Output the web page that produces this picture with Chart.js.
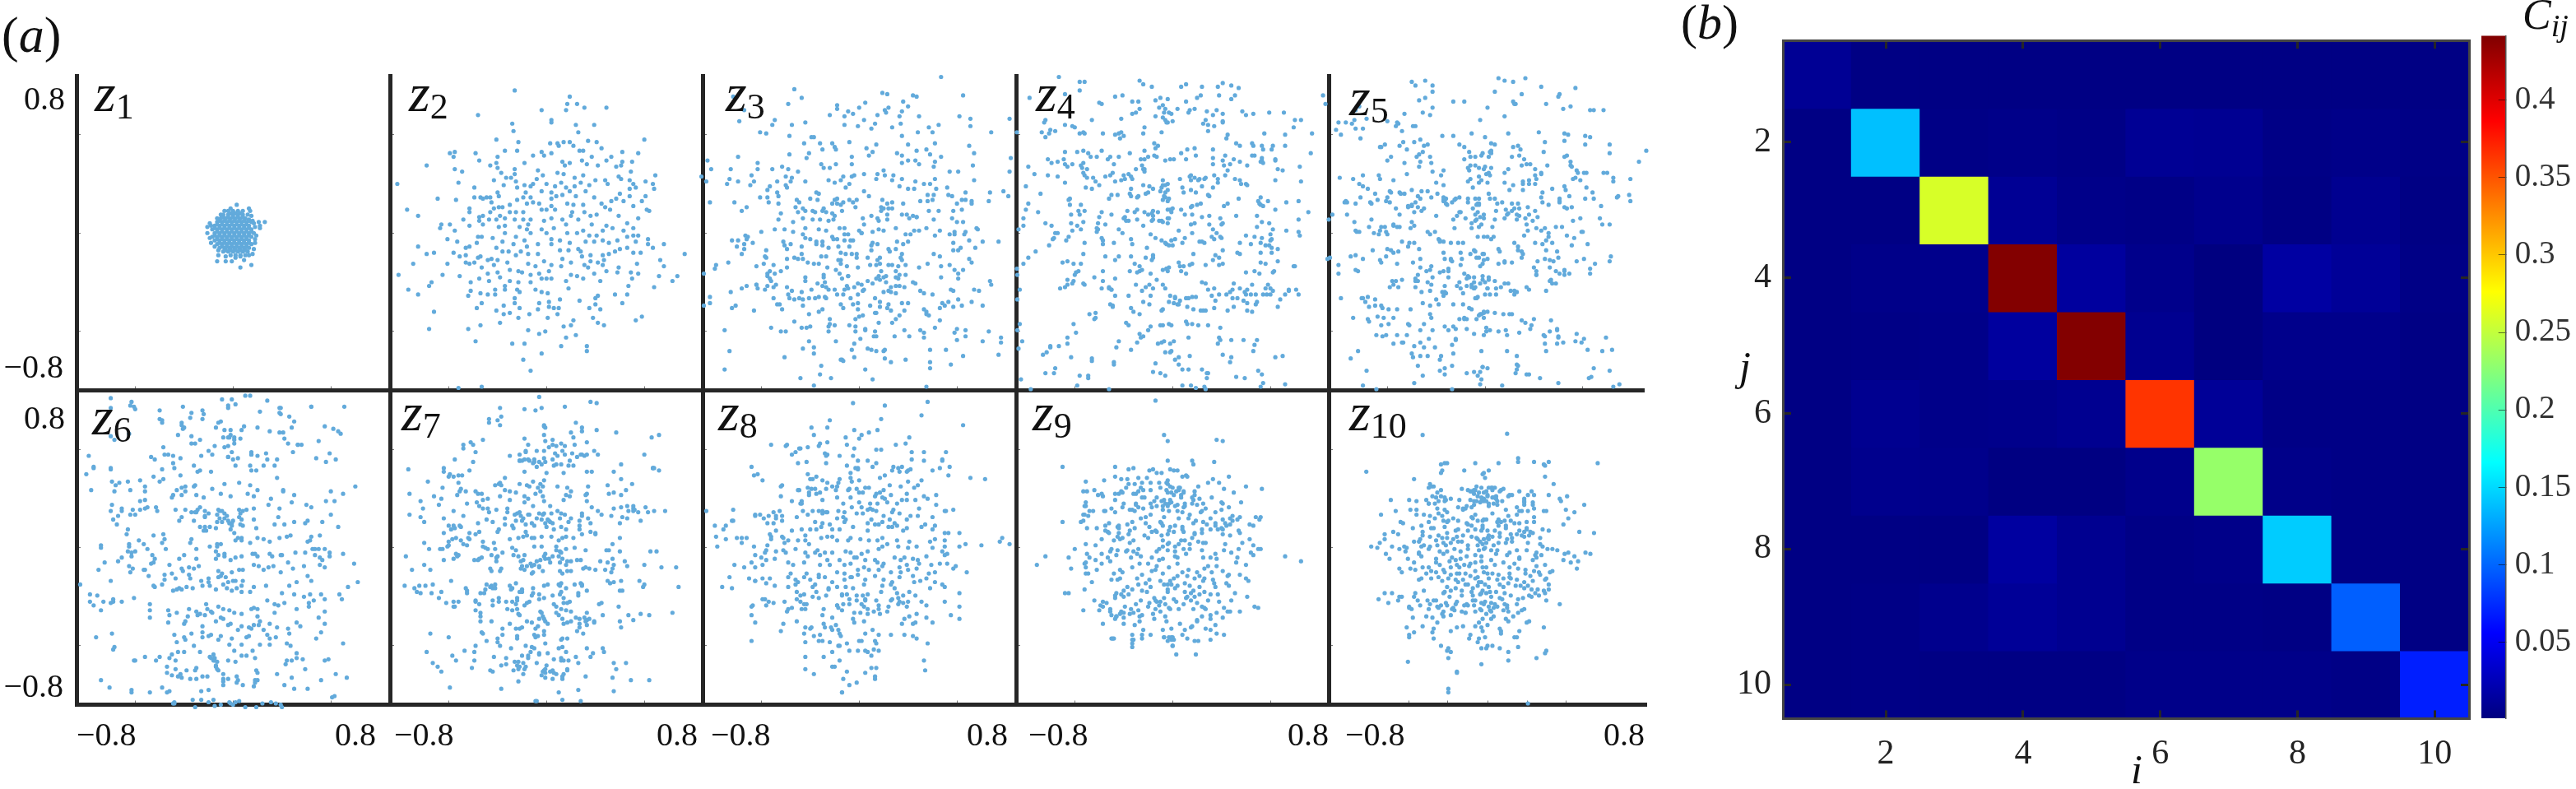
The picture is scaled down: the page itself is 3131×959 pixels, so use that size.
<!DOCTYPE html>
<html>
<head>
<meta charset="utf-8">
<title>Latent scatter and correlation matrix</title>
<script src="https://cdn.jsdelivr.net/npm/chart.js@4"></script>
<style>
  html, body { margin: 0; background: #fff; }
  #stage { position: relative; width: 3131px; height: 959px; overflow: hidden; }
  #stage canvas { position: absolute; }
  .t { position: absolute; font-family: "Liberation Serif", serif; line-height: 0; white-space: nowrap; color: #111; z-index: 50; }
  .t i { font-style: italic; }
  .t sub { font-size: 44px; vertical-align: -9px; line-height: 0; font-style: normal; }
  .t sub i { font-size: 38px; }
</style>
</head>
<body>
<div id="stage"></div>
<script>
// scatter values are x,y pairs in hundredths
const z1 = [3,23,13,20,-2,20,-7,18,14,18,-10,15,15,14,-13,12,16,10,26,9,21,9,22,6,17,8,-19,8,-21,5,-18,6,22,4,18,5,-21,0,19,-2,-19,-4,18,-5,-18,-8,18,-8,-15,-11,17,-13,-12,-14,-12,-18,16,-17,-6,-19,13,-18,9,-22,2,-20,-13,-23,-6,-23,-1,-23,6,-28,15,-26,6,-19,
  -4,18,0,18,4,18,8,18,-8,15,-4,15,0,15,4,15,8,15,12,15,-10,12,-6,12,-2,12,2,12,6,12,10,12,13,11,-13,9,-9,9,-5,9,-1,9,3,9,7,9,11,9,15,9,-15,6,-11,6,-7,6,-3,6,1,6,5,6,9,6,13,6,-17,3,-13,3,-9,3,-5,3,-1,3,3,3,7,3,11,3,15,3,-15,0,-11,0,-7,0,-3,0,1,0,5,0,9,0,13,0,17,0,-17,-3,-13,-3,-9,-3,-5,-3,-1,-3,3,-3,7,-3,11,-3,15,-3,-15,-6,-11,-6,-7,-6,-3,-6,1,-6,5,-6,9,-6,13,-6,-13,-9,-9,-9,-5,-9,-1,-9,3,-9,7,-9,11,-9,15,-9,-11,-12,-7,-12,-3,-12,1,-12,5,-12,9,-12,13,-12,-8,-15,-4,-15,0,-15,4,-15,8,-15,12,-15,-2,-18,2,-18,6,-18,10,-18,
  -2,16,2,16,6,16,-8,13,-4,13,0,13,4,13,8,13,-11,10,-7,10,-3,10,1,10,5,10,9,10,13,10,-13,7,-9,7,-5,7,-1,7,3,7,7,7,11,7,-15,4,-11,4,-7,4,-3,4,1,4,5,4,9,4,13,4,-13,1,-9,1,-5,1,-1,1,3,1,7,1,11,1,15,1,-15,-2,-11,-2,-7,-2,-3,-2,1,-2,5,-2,9,-2,13,-2,-13,-5,-9,-5,-5,-5,-1,-5,3,-5,7,-5,11,-5,-11,-8,-7,-8,-3,-8,1,-8,5,-8,9,-8,13,-8,-9,-11,-5,-11,-1,-11,3,-11,7,-11,11,-11,-6,-14,-2,-14,2,-14,6,-14,10,-14];
const z2 = [-26,116,19,111,17,105,25,105,31,102,49,102,16,100,-4,100,-56,96,4,92,4,90,-28,89,39,88,24,88,-27,83,26,82,80,76,-41,76,-23,74,34,75,41,74,19,74,14,74,3,73,9,73,10,71,22,71,45,69,-34,67,-24,67,-79,65,-75,66,-58,65,27,67,30,67,-4,66,4,65,-11,63,-2,63,75,65,62,66,37,62,-76,62,-40,62,-55,59,53,62,49,59,29,59,70,58,62,58,-41,57,-18,57,13,58,19,57,33,56,-46,55,-98,55,61,55,42,55,57,54,-40,53,15,55,-75,52,-69,50,-26,52,-37,49,-7,51,69,50,9,49,14,48,89,47,-26,48,-33,45,-29,45,-3,47,30,47,23,45,59,46,61,44,40,43,48,43,-43,43,-25,42,-8,44,12,41,28,41,68,43,81,42,-122,40,-72,41,87,40,50,40,71,40,-35,39,-18,39,-11,40,35,39,73,37,-59,37,-24,37,0,40,7,38,16,37,23,38,68,36,88,36,-4,34,-13,38,-40,33,-17,33,4,33,19,34,32,34,60,32,
  -59,29,-54,29,-49,29,-46,29,-89,28,-39,30,-19,29,-13,29,8,30,13,31,24,30,39,29,68,30,81,30,-74,27,-52,28,-45,25,-24,27,4,28,57,28,53,26,63,26,78,26,-6,24,-11,25,-16,24,-30,23,-39,21,-43,20,-63,20,-114,19,4,22,17,24,22,23,30,23,45,24,71,22,48,21,52,19,82,19,84,18,-63,17,-46,17,-36,21,-30,17,-25,17,-19,17,-4,19,0,19,7,19,21,17,31,17,36,14,-105,14,-55,13,-52,14,-38,14,-34,12,-26,11,-19,11,-13,11,-2,10,4,12,13,11,20,14,26,11,41,15,59,14,75,12,-68,11,-55,10,-47,11,-41,11,-86,7,-79,7,-63,6,-52,7,-39,5,-34,6,-22,5,-15,7,16,7,37,7,49,6,66,8,-87,4,-75,2,71,4,46,2,54,4,63,2,30,2,-16,3,-4,3,6,4,-34,0,-13,0,0,0,17,0,25,0,35,-2,41,-2,66,-3,71,-2,75,-2,-56,-3,-53,-3,-81,-5,-44,-4,-25,-3,-18,-6,11,-6,4,-5,19,-8,32,-7,39,-7,46,-6,51,-8,58,-6,73,-7,83,-5,-36,-7,-73,-7,-57,-8,83,-9,96,-9,-63,-11,-66,-12,-41,-12,-105,-11,-27,-9,-7,-9,-16,-11,4,-9,87,-12,66,-12,60,-13,26,-13,18,-14,11,-14,-92,-16,-98,-17,-76,-16,-36,-15,-31,-15,-21,-15,-7,-17,28,-15,56,-15,71,-16,77,-16,113,-17,-71,-19,-66,-18,-54,-19,-25,-18,-15,-17,13,-21,29,-19,36,-18,46,-18,51,-17,-56,-20,-48,-22,-45,-21,-40,-22,47,-22,93,-22,-66,-24,-63,-25,-59,-24,-81,-25,-109,-25,-32,-24,-15,-25,-2,-23,20,-24,36,-23,42,-24,74,-25,96,-27,-43,-26,-53,-28,-9,-27,4,-26,12,-27,31,-26,46,-26,59,-28,-23,-31,-20,-32,-30,-30,2,-31,34,-28,49,-31,58,-32,69,-32,75,-33,-40,-32,-48,-33,-85,-34,-121,-34,-71,-35,-6,-33,20,-34,39,-33,92,-35,107,-35,-38,-36,-13,-34,0,-37,-4,-37,4,-37,25,-35,30,-37,70,-37,-55,-37,103,-39,-94,-40,-62,-40,-47,-39,-30,-39,-23,-40,-13,-40,16,-39,44,-39,-96,-43,-34,-43,67,-43,88,-44,-113,-46,-62,-47,-42,-46,-34,-46,-24,-46,-9,-46,18,-45,-105,-50,-64,-51,-54,-49,-48,-50,-42,-50,-22,-48,-4,-48,1,-49,42,-51,56,-50,66,-50,-26,-53,11,-54,-53,-57,-26,-57,-6,-57,2,-56,27,-55,40,-53,62,-57,-57,-61,-35,-59,2,-60,6,-61,40,-58,-41,-63,-92,-64,-22,-61,-7,-62,10,-61,35,-61,44,-62,-30,-65,-35,-66,-14,-66,9,-66,1,-69,-23,-69,38,-69,73,-71,78,-68,-38,-73,22,-71,42,-73,-54,-75,20,-75,14,-76,47,-75,-96,-78,-64,-78,-15,-79,-6,-82,-1,-80,24,-83,-58,-88,16,-85,-28,-90,-18,-90,12,-92,33,-92,33,-96,-4,-98,-19,-103,-13,-112,-72,-126,-53,-125];
const z3 = [67,127,-53,117,19,114,23,113,44,112,47,111,85,112,-103,111,-47,110,36,107,-58,105,-18,104,5,106,40,103,0,102,24,102,-18,101,-94,100,21,100,-9,99,-5,97,35,99,22,98,-24,96,15,96,-12,95,33,95,49,95,82,95,91,93,123,93,-69,92,4,92,-98,91,-44,90,34,89,-71,88,-55,88,-12,88,-1,87,13,89,65,88,91,87,10,85,27,86,57,86,60,82,48,82,108,82,129,82,-81,82,-76,81,-57,79,35,79,-39,78,-37,78,-8,74,-32,73,62,73,-45,73,-22,73,14,72,40,72,90,71,-20,70,6,69,-30,68,-19,68,55,68,47,67,11,66,-41,65,94,65,31,65,-57,64,58,64,8,63,35,63,67,62,-99,62,-43,61,-6,62,-124,59,124,61,40,59,46,59,35,57,62,58,-6,56,-83,57,-31,56,-19,56,49,56,93,55,
  -121,52,-105,52,-83,52,-71,52,-63,54,-58,52,-50,50,-29,53,-24,53,61,54,20,51,-129,46,-125,42,-106,44,-108,40,-99,42,-88,47,-86,42,-67,42,-60,46,-55,45,-20,41,-13,46,-6,46,-4,47,4,48,15,48,21,47,28,47,35,44,62,44,74,50,81,50,123,50,-75,35,-73,38,-60,39,-56,42,-44,42,-25,43,-15,43,-8,40,14,44,27,43,33,38,46,42,53,40,58,40,94,43,-89,39,-59,37,-35,33,-11,37,4,34,45,36,40,36,63,36,72,37,87,33,107,33,118,34,-122,25,-102,25,-81,29,-75,29,-74,25,-67,33,-66,30,-51,27,-49,25,-40,28,-34,27,-33,32,-20,27,-18,28,-13,25,-8,27,-5,25,-2,27,8,30,19,27,23,24,27,25,56,31,61,31,73,31,76,30,84,27,87,27,92,26,106,26,122,30,-96,18,-92,21,-66,24,-52,21,-46,20,-29,20,-22,24,-18,24,-15,23,-3,21,18,21,20,20,24,20,27,20,36,24,50,26,56,26,60,27,80,24,92,24,-64,16,-50,17,-44,18,-38,18,-36,17,-30,18,-27,17,-22,16,-20,14,-14,18,18,18,23,15,35,15,39,15,44,14,47,13,57,18,65,18,77,18,84,19,-66,11,-54,9,-46,12,-38,11,-32,11,-25,10,-21,11,3,12,10,14,15,12,16,10,23,11,41,12,47,13,61,11,76,12,80,9,85,9,-93,-2,-91,-3,-80,1,-69,3,-61,3,-54,1,-44,4,-33,3,-27,2,-16,4,-12,4,0,2,4,7,16,3,20,2,30,4,45,2,49,2,55,4,66,2,78,1,87,1,96,4,97,3,-46,-1,-22,-3,-12,-1,-9,-1,2,0,2,0,11,1,38,-1,42,-1,62,-2,74,-1,78,-1,86,-1,-104,-6,-99,-6,-92,-5,-87,-8,-94,-9,-62,-7,-56,-9,-44,-4,-40,-5,-35,-7,-30,-7,-21,-5,-18,-5,-12,-6,-7,-6,-5,-6,11,-8,40,-7,36,-9,31,-7,101,-7,114,-7,77,-8,90,-6,-100,-11,-94,-13,-76,-14,-61,-10,-59,-13,-47,-11,-35,-9,-30,-10,-25,-12,-17,-11,-8,-11,10,-10,15,-9,30,-13,25,-15,24,-13,83,-12,81,-14,77,-14,95,-12,-96,-17,-47,-17,-31,-19,-27,-19,-15,-16,-6,-17,-2,-17,-11,-17,10,-14,35,-17,61,-17,66,-19,90,-21,92,-24,-76,-20,-77,-19,-59,-21,-53,-20,-50,-21,-46,-21,-17,-22,-15,-22,-2,-20,7,-20,15,-22,17,-20,34,-20,35,-22,-117,-26,-107,-24,-118,-29,-84,-27,-78,-25,-70,-26,-59,-28,-42,-24,-37,-25,-33,-25,-26,-28,-15,-25,-10,-27,-1,-28,9,-26,14,-26,17,-25,24,-26,27,-26,32,-27,38,-26,49,-28,56,-25,67,-27,74,-26,-73,-31,-75,-33,-69,-33,-64,-31,-44,-36,-29,-34,-19,-30,-16,-33,-9,-35,18,-31,30,-31,33,-34,38,-34,78,-30,81,-33,85,-30,129,-29,-127,-33,16,-35,20,-36,-75,-35,-73,-37,-72,-39,-44,-39,-29,-36,-28,-40,-14,-37,-9,-35,14,-37,17,-38,22,-35,32,-37,30,-36,67,-36,81,-37,-96,-45,-92,-43,-84,-42,-84,-42,-83,-45,-77,-46,-75,-43,-70,-44,-68,-42,-59,-44,-34,-41,-30,-43,-1,-41,2,-42,7,-39,11,-41,22,-40,33,-43,44,-40,46,-41,107,-39,108,-42,-10,-43,-27,-44,-25,-46,-20,-46,-12,-46,-9,-45,-4,-44,-47,-48,-55,-47,-39,-46,4,-46,3,-47,24,-47,26,-44,30,-43,37,-44,50,-47,75,-46,77,-47,94,-46,98,-47,-122,-52,-105,-48,-70,-53,-58,-50,-53,-54,-49,-53,-41,-53,-33,-52,-27,-53,-18,-50,-13,-50,-7,-53,-1,-50,13,-53,20,-48,26,-48,30,-49,53,-49,60,-50,-65,-58,-67,-58,-63,-62,-57,-53,-46,-54,-36,-53,-28,-52,-15,-58,-5,-58,-1,-57,9,-59,17,-56,24,-58,35,-57,40,-57,68,-57,73,-56,101,-59,92,-56,81,-54,
  -122,-57,-127,-59,-104,-61,-101,-59,-86,-63,-46,-59,-13,-61,-1,-62,17,-60,23,-61,26,-63,37,-63,53,-62,55,-64,66,-61,70,-59,77,-60,84,-59,-41,-66,-33,-64,-30,-62,-24,-70,-3,-70,0,-68,3,-67,13,-65,14,-65,30,-70,33,-67,55,-66,57,-67,66,-71,-72,-77,-53,-72,-47,-77,-43,-77,-40,-76,-25,-76,-24,-74,-20,-75,-8,-75,-3,-76,16,-73,27,-73,62,-77,80,-78,-110,-79,-64,-80,-60,-80,-25,-80,-3,-80,5,-79,5,-78,13,-80,37,-79,50,-79,53,-81,78,-81,87,-79,106,-80,-19,-88,-37,-93,-41,-88,-4,-90,1,-86,12,-84,14,-84,29,-84,41,-84,53,-85,80,-87,87,-84,101,-88,116,-89,116,-85,-106,-96,-46,-94,-37,-98,-6,-95,7,-94,10,-95,14,-96,20,-96,21,-95,58,-95,71,-95,-110,-111,-61,-101,-31,-108,-15,-103,-14,-103,-13,-104,-4,-101,21,-102,26,-105,38,-103,58,-105,85,-100,114,-99,-32,-115,-48,-118,-23,-118,5,-111,58,-110,75,-107,11,-119,-37,-124,55,-125];
const z4 = [-93,127,-76,123,-72,123,-76,116,-47,111,-27,124,-24,121,-17,119,7,119,11,121,24,119,37,119,41,122,48,120,54,118,-117,110,-88,113,-60,106,-58,105,-41,112,-33,107,-28,107,-14,108,-10,110,-4,109,11,107,23,112,20,110,38,112,48,109,51,112,123,112,125,105,-33,97,-30,98,-27,101,-11,102,-8,104,-6,101,4,101,14,100,18,101,36,100,41,97,57,99,66,97,79,98,91,98,135,96,-42,93,-3,98,-1,97,-7,98,-14,95,-8,94,-6,92,0,91,13,98,28,99,33,96,60,96,-104,92,-105,90,-88,88,-66,92,-23,86,27,92,25,89,-4,90,29,88,34,87,41,91,41,90,105,92,100,92,99,86,-107,82,-100,84,-96,83,-82,87,-80,86,-73,82,-76,81,-72,81,-101,81,-104,78,-57,81,-44,81,-42,82,-40,79,-24,81,-9,82,-5,90,29,83,45,80,75,81,92,80,114,81,-43,77,-47,80,44,77,
  -88,66,-78,66,-73,67,-69,65,-67,62,-62,62,-89,60,-58,67,-35,65,-23,67,-20,62,-15,73,-12,71,-14,69,12,68,18,69,33,68,43,63,52,73,55,71,65,73,66,71,73,71,74,68,81,68,82,71,92,71,7,65,19,63,-102,60,-94,58,-86,54,-75,55,-70,52,-53,60,-51,62,-44,62,-26,60,-23,60,-15,63,-13,62,-6,59,-2,60,1,60,11,60,33,61,41,59,50,60,55,58,65,63,67,63,73,61,73,59,84,59,113,65,-99,57,-88,56,-82,56,-73,57,-74,53,-48,56,-30,52,-24,52,-25,55,33,56,42,55,47,56,61,55,72,58,74,57,84,60,-118,54,-113,48,-73,49,-102,47,-94,46,-72,47,-49,49,-40,47,-36,48,-34,46,-23,50,-23,52,43,47,45,51,86,52,90,51,104,54,-70,45,-65,45,-55,46,-51,47,-42,43,-39,44,-33,44,14,46,15,47,18,45,22,44,27,45,34,47,37,44,-88,41,-60,39,-63,42,-47,42,-24,39,-8,43,-4,40,-19,38,-6,39,6,44,15,43,21,43,26,44,37,41,51,44,56,40,60,40,61,39,55,43,84,43,105,42,-120,38,-108,32,-71,37,-66,36,-34,36,-20,33,-16,36,-9,37,-8,39,8,37,15,35,24,38,33,37,-22,32,-10,34,-6,33,-4,35,-7,30,-29,29,-28,30,-35,32,-34,30,-45,31,-50,31,-52,28,-85,27,-84,28,9,33,19,33,29,31,30,30,54,28,72,29,-6,29,-3,28,-4,26,-8,27,-118,24,-84,23,-75,23,-120,19,-110,17,-37,18,-29,19,-31,17,-23,17,-20,15,-17,16,-16,14,-16,18,-12,17,-4,19,-2,19,0,20,-1,17,7,19,15,21,16,22,20,23,23,24,42,22,45,24,74,22,72,23,70,26,71,24,78,26,84,19,93,25,103,26,111,17,-77,18,-72,18,-76,15,-83,15,-58,17,-60,13,-50,15,-40,12,-39,13,-38,10,-36,10,-29,11,-16,11,-9,10,-3,12,10,15,16,15,24,13,30,14,39,12,52,14,69,14,-122,12,-104,8,-83,8,-73,9,-78,6,-61,8,-62,4,-61,3,-55,7,-24,6,-17,10,-4,12,-11,10,-8,9,-4,8,15,7,18,8,30,7,41,8,40,7,73,9,69,5,79,8,103,11,-122,6,-126,3,-99,6,-96,0,-94,0,-85,-3,-82,2,-75,3,-62,1,-58,-4,-44,3,-41,0,-18,-1,5,2,16,0,33,3,36,0,82,3,80,-1,93,2,103,1,104,-2,-97,-4,-98,-5,-87,-6,-72,-8,-57,-6,-57,-9,-48,-8,-34,-5,-14,-4,-9,-6,-6,-8,2,-5,-1,-6,10,-4,22,-7,24,-7,34,-5,40,-4,39,-3,60,-2,67,-3,73,-4,80,-6,81,-5,32,-3,-101,-10,-33,-9,-21,-12,-5,-9,-3,-10,0,-10,8,-8,41,-14,26,-8,55,-8,64,-9,72,-8,76,-10,79,-10,81,-12,86,-13,-112,-15,-118,-20,-122,-25,-73,-17,-55,-19,-44,-19,-34,-19,-22,-20,-16,-18,17,-17,35,-18,38,-20,53,-16,55,-17,72,-16,81,-16,-90,-24,-86,-23,-81,-25,-75,-25,-47,-22,-27,-27,-31,-25,-17,-22,-16,-20,-3,-28,-5,-29,-5,-29,6,-27,9,-27,5,-24,14,-26,16,-25,27,-26,41,-25,38,-26,33,-22,72,-24,76,-25,86,-23,99,-27,-77,-31,-79,-32,-80,-34,-57,-31,-25,-30,-27,-31,-35,-31,-29,-32,-18,-33,-8,-30,-4,-31,11,-33,7,-31,60,-32,67,-31,71,-33,83,-31,82,-32,100,-27,-127,-34,-86,-38,-81,-39,-72,-42,-64,-36,-57,-39,-47,-37,-13,-38,-8,-42,24,-40,27,-41,50,-41,-86,-42,-82,-41,-73,-41,-58,-45,-50,-46,-52,-44,-30,-42,-25,-47,-22,-44,-19,-42,-16,-45,-6,-45,29,-46,65,-42,78,-42,-125,-46,-92,-45,-88,-44,-52,-45,-50,-46,34,-45,49,-46,55,-45,61,-46,76,-45,80,-45,-47,-51,-36,-51,-18,-51,-2,-51,2,-52,16,-52,32,-51,38,-50,47,-48,59,-48,60,-50,82,-47,95,-47,95,-46,101,-46,-127,-54,-24,-56,2,-53,6,-55,11,-53,13,-53,19,-52,44,-50,53,-53,64,-50,68,-50,74,-50,77,-50,88,-54,92,-50,103,-50,-51,-58,-49,-59,-34,-61,-19,-58,-3,-56,1,-57,4,-58,5,-58,12,-60,35,-55,49,-53,58,-55,61,-57,69,-56,86,-60,80,-50,-49,-60,-32,-64,-27,-66,-8,-62,-9,-63,17,-62,23,-63,25,-63,27,-63,34,-61,45,-63,50,-60,61,-63,65,-64,68,-58,
  -68,-66,-63,-65,-63,-69,-64,-70,-38,-73,-36,-75,-81,-74,-127,-79,-125,-74,-3,-74,-1,-75,-8,-75,-10,-75,-18,-76,11,-72,12,-74,16,-74,21,-75,29,-75,39,-77,-79,-81,-20,-79,-27,-82,-26,-85,-24,-84,-86,-85,38,-85,48,-87,-123,-88,-86,-90,-44,-88,-29,-89,-12,-90,-9,-89,-7,-88,-2,-90,1,-88,13,-85,37,-90,39,-87,58,-87,69,-87,67,-91,-126,-94,-100,-92,-93,-92,-103,-97,-100,-93,-46,-93,-34,-95,-2,-97,-1,-96,-6,-97,5,-101,66,-96,84,-101,90,-100,-83,-101,-106,-99,-66,-104,-66,-102,14,-100,41,-99,48,-101,-48,-107,-48,-105,-14,-106,2,-103,5,-107,47,-105,-104,-114,-97,-114,-96,-110,-76,-116,-69,-116,-69,-118,-16,-113,-10,-114,-6,-116,8,-111,13,-111,24,-111,29,-114,70,-112,73,-115,-124,-119,-116,-127,-78,-124,-52,-127,8,-124,15,-124,19,-126,26,-125,27,-127,28,-118,28,-114,52,-117,59,-118,74,-122,72,-125,92,-123];
const z5 = [-60,123,-49,124,11,126,16,124,23,123,33,126,-57,120,-43,120,-43,115,8,115,46,119,61,113,74,118,60,111,30,113,-54,108,-49,110,-26,107,-17,107,-43,102,-106,100,-103,103,-66,97,-51,98,-120,90,-107,92,-97,93,-109,89,-80,91,-72,90,-45,96,-4,92,16,95,23,107,25,105,24,105,50,105,64,101,89,100,70,103,86,100,97,100,2,102,
  -114,90,-100,85,-71,89,-73,87,-68,83,-122,84,-118,80,-106,85,-102,77,-59,87,-57,87,-35,79,-26,79,-11,81,0,78,19,81,44,82,65,81,-58,74,-67,74,-82,72,-85,70,-70,71,-53,76,-47,72,-64,68,-21,72,-17,70,5,73,8,72,68,80,49,74,65,75,82,79,86,78,82,72,102,72,-86,70,-51,66,-50,71,-56,62,-54,64,-2,65,4,66,5,67,23,70,29,68,27,71,-17,60,-13,66,-8,62,3,62,5,65,28,63,48,66,65,62,67,63,70,58,-77,62,-45,62,-12,62,22,62,32,60,-3,63,102,65,126,58,132,67,-80,59,-66,57,-53,58,-54,54,-44,57,-34,51,-12,55,-8,55,30,55,34,56,37,56,51,55,71,54,70,55,-5,53,5,53,-1,52,-14,53,0,54,-13,51,19,52,42,44,41,52,46,49,133,54,-100,47,-87,47,-64,48,-43,50,-36,47,3,49,-5,46,1,48,16,49,41,47,46,48,74,45,75,51,76,49,83,49,81,49,100,49,97,49,-119,45,-86,44,-108,44,-75,43,-40,41,-12,44,-5,41,-3,43,4,47,31,40,36,40,36,43,41,40,72,44,78,43,105,42,119,44,-96,36,-103,40,-100,38,-14,42,-10,37,-34,39,2,41,16,41,23,39,31,42,55,36,65,38,66,35,83,37,105,45,-90,32,-80,29,-78,34,-70,33,-60,35,-69,32,-77,33,-66,32,-52,34,-55,30,-47,34,-53,28,-44,29,-39,32,-34,27,-32,28,-21,29,3,32,20,35,46,29,47,33,-102,29,-113,25,-115,25,-88,27,-81,26,-34,26,-33,27,-24,28,-5,28,-8,28,4,28,8,28,31,35,61,28,61,26,69,30,88,33,89,28,118,31,109,30,108,29,-94,25,-93,24,-78,25,-57,25,-63,22,-73,20,-60,22,-50,20,-5,24,-7,23,-14,25,-14,28,-32,24,-34,29,-31,23,-27,25,-25,27,-6,24,-5,23,10,24,14,25,22,24,24,20,27,24,35,21,47,25,52,23,61,25,82,28,119,26,-114,26,-106,24,-113,15,-107,9,-60,23,-63,21,-58,17,-55,21,-52,18,-70,15,-10,20,-4,13,9,18,17,19,22,18,28,20,26,15,41,18,65,21,71,21,67,20,95,22,-125,15,-128,11,-20,17,-21,17,-8,15,-6,17,19,16,18,15,-8,10,16,12,28,14,36,15,33,12,39,10,43,13,72,10,94,12,78,12,-93,11,-75,7,-60,9,-40,14,-26,11,-16,12,-23,14,-11,8,-3,7,-1,12,-7,11,-1,15,8,11,26,11,-82,5,-85,5,-95,5,-106,2,-105,1,-86,2,-80,-1,-72,5,-75,6,-70,5,-61,4,-58,6,-47,1,-41,1,-25,4,-11,4,-5,5,6,5,34,7,42,4,46,2,52,0,58,5,63,5,79,1,80,1,96,7,102,7,-103,1,-87,-1,-91,0,-81,1,-45,-1,-6,-3,-1,-3,7,-3,35,2,32,-2,49,4,52,-3,-38,-5,-37,-6,-37,-7,-34,-7,-28,-8,-18,-8,-22,-8,5,-5,2,-3,24,-8,41,-8,50,-6,55,-8,67,-2,73,-4,-68,-7,-62,-8,-63,-11,-58,-8,-54,-13,27,-11,47,-9,84,-9,71,-10,-92,-14,-80,-13,-77,-14,-71,-15,-75,-16,-34,-16,-20,-16,-9,-14,-12,-17,-8,-15,-1,-17,11,-13,12,-15,27,-14,30,-15,50,-14,59,-15,-127,-20,-129,-21,-106,-18,-110,-19,-100,-21,-81,-19,-86,-22,-85,-24,-72,-25,-53,-21,-33,-21,-28,-21,-28,-22,-19,-21,-20,-26,-7,-20,-2,-17,-5,-20,-1,-22,-2,-25,2,-21,11,-25,16,-24,22,-24,30,-20,31,-17,43,-23,49,-21,53,-22,56,-23,60,-20,75,-23,81,-21,90,-25,103,-19,102,-23,-120,-26,-104,-31,-59,-24,-53,-28,-48,-31,-45,-30,-44,-27,-30,-31,-27,-23,-30,-29,-17,-33,-14,-35,-9,-36,-4,-27,-2,-35,3,-36,16,-23,40,-28,42,-31,42,-34,53,-28,65,-30,65,-31,69,-33,86,-29,86,-33,-120,-33,-106,-30,-73,-39,-76,-39,-68,-38,-57,-39,-57,-37,-55,-34,-43,-36,-37,-32,-34,-31,-30,-36,-21,-40,-13,-36,-4,-41,-9,-40,-15,-37,3,-38,-2,-38,0,-40,8,-39,16,-41,19,-41,42,-34,53,-39,54,-38,58,-31,61,-33,65,-34,58,-41,55,-41,-75,-42,-78,-44,-71,-44,-57,-44,-55,-39,-47,-40,-44,-42,-23,-43,-33,-43,-20,-45,-15,-43,-11,-44,-9,-45,2,-45,9,-45,13,-44,21,-47,24,-47,36,-46,-52,-48,-45,-47,-35,-48,-18,-49,-9,-45,-11,-42,-8,-44,-33,-48,2,-45,50,-47,-7,-53,-6,-52,0,-50,4,-50,9,-50,-118,-53,-101,-53,-90,-59,-85,-59,-84,-61,-79,-62,-72,-62,-38,-58,-34,-51,-32,-49,-8,-53,24,-50,26,-48,34,-44,-100,-53,-96,-52,-98,-56,-95,-60,-90,-54,-75,-69,-61,-62,-51,-57,-45,-59,-40,-54,-26,-58,-18,-58,-13,-61,-11,-62,-4,-66,-3,-66,-1,-64,2,-64,8,-65,-108,-69,-96,-70,-95,-72,-88,-68,-83,-69,-79,-74,-85,-75,-63,-74,-62,-75,-45,-66,-44,-69,-17,-70,-21,-70,-17,-69,-15,-70,15,-66,20,-66,22,-66,-1,-65,-5,-67,-1,-69,-7,-70,30,-71,33,-73,40,-70,54,-71,-72,-83,-64,-83,-53,-79,-50,-74,-43,-79,-26,-76,-24,-78,-15,-78,1,-77,4,-79,-67,-89,-89,-83,-81,-83,-84,-84,-68,-89,-53,-89,-46,-86,-33,-76,-30,-79,-9,-82,1,-80,11,-80,17,-79,28,-81,37,-78,38,-75,59,-78,59,-79,53,-80,75,-82,-58,-92,-75,-90,-60,-98,-50,-93,-41,-93,-27,-91,-24,-86,-24,-87,-1,-83,18,-83,48,-83,49,-84,60,-85,64,-89,74,-88,79,-89,81,-86,60,-84,99,-85,-104,-96,-110,-102,-59,-101,-53,-100,-47,-100,-36,-100,-26,-98,-3,-96,18,-96,49,-90,50,-96,59,-90,84,-95,96,-96,104,-95,-55,-108,-37,-103,-33,-110,-27,-108,-9,-113,-4,-113,-2,-109,-2,-109,26,-100,26,-107,2,-110,27,-108,89,-110,-97,-112,-51,-116,-37,-112,-33,-115,-15,-114,-6,-116,-3,-119,25,-114,26,-111,34,-115,36,-115,45,-118,85,-118,87,-117,102,-112,-100,-124,-89,-127,-58,-122,-27,-127,-4,-123,14,-124,60,-122,105,-125,110,-123];
const z6 = [-100,122,-83,119,-84,116,-81,115,-60,112,-41,115,-1,121,-9,121,2,117,10,124,14,124,28,120,-4,116,-4,114,-100,114,-80,113,38,114,39,114,64,115,64,115,91,115,-60,105,-58,102,-58,104,-25,112,-34,110,-25,105,-42,102,-35,106,-24,109,-10,103,22,111,38,110,46,107,50,103,-40,98,39,109,30,95,75,99,82,97,86,95,-100,91,-42,100,-2,96,-4,90,1,90,20,98,-7,96,-12,102,7,96,9,99,38,94,48,98,-118,75,-97,88,-3,90,-14,98,-2,92,-45,92,1,85,6,89,42,89,45,85,53,84,53,84,70,87,88,93,-85,93,-31,85,-41,97,-26,75,-17,76,-4,74,-4,74,-8,90,1,88,15,76,28,72,27,77,36,72,76,70,79,77,56,84,41,94,-64,72,-53,76,-49,69,-49,75,-57,82,0,72,4,73,2,67,-4,83,-15,83,-20,79,-32,67,-43,73,-56,76,-67,74,-34,85,-34,91,-27,88,-7,82,-1,78,15,76,15,78,20,75,49,78,68,73,84,72,-114,65,-114,66,-100,64,-76,55,-65,58,-72,50,-57,56,-58,64,-43,59,-27,63,-29,62,-18,62,14,67,15,63,19,63,25,67,34,67,36,57,-48,65,-100,65,-99,54,-93,53,-96,51,-86,54,-72,46,-60,54,-46,47,-42,49,-39,50,-39,46,-32,50,-31,51,-17,48,-7,52,5,53,14,51,20,47,41,46,41,47,80,46,100,50,-116,47,-97,46,-84,47,-72,39,-76,38,-49,43,-50,41,-42,43,-30,43,-24,41,-10,44,-2,42,12,44,17,42,31,40,50,43,48,37,60,35,76,38,83,38,90,44,-91,32,-99,35,-91,30,-80,27,-82,31,-72,32,-70,33,-63,33,-62,30,-47,31,-30,29,-29,31,-27,33,-20,28,-9,30,8,30,5,31,11,31,17,32,-39,31,-34,29,-31,29,-23,30,-12,31,29,35,38,32,64,33,80,27,-76,31,-84,27,-44,22,-42,25,-32,22,-23,25,-23,26,-13,27,-11,30,-5,26,0,22,-7,28,-7,24,-1,20,5,25,6,28,-1,18,7,23,-13,21,17,23,37,25,-4,22,-11,24,-14,16,-23,17,-27,17,-24,14,-22,14,-19,17,-9,21,-3,20,-2,15,1,12,34,19,42,19,19,16,6,19,8,18,50,21,61,22,59,20,73,21,86,17,
  -120,60,-100,30,-94,26,-98,23,-95,19,-87,11,-86,15,-77,6,-108,0,-108,2,-85,1,-86,-3,-80,-3,-85,3,-73,3,-65,10,-70,-1,-58,4,-56,7,-57,11,-55,-1,-34,7,-35,4,-30,-1,-19,1,-13,1,-13,3,-10,3,-12,-6,-7,-7,2,6,4,8,7,6,7,8,14,4,20,8,25,7,30,5,38,8,44,9,47,10,61,5,64,9,63,6,71,10,65,-1,67,-1,70,-1,75,-1,-105,-12,-91,-8,-83,-7,-83,-4,-66,-6,-65,-12,-64,-9,-40,-6,-44,-9,-30,-9,-14,-3,-14,-9,-7,-5,-2,-10,2,-8,7,-7,16,-5,20,-7,18,-5,30,-5,32,-7,39,-6,40,-6,51,-4,59,-4,67,-6,71,-8,79,-4,79,-7,90,-5,73,-10,-94,-11,-85,-15,-82,-17,-73,-18,-67,-13,-52,-14,-42,-17,-41,-19,-28,-15,-36,-16,-32,-17,-12,-19,-9,-21,-1,-20,5,-18,8,-18,17,-14,21,-15,25,-18,29,-16,33,-15,45,-12,49,-17,58,-15,71,-14,75,-16,99,-13,-110,-18,-125,-30,-100,-27,-84,-20,-72,-18,-69,-23,-56,-22,-56,-26,-50,-21,-47,-25,-36,-22,-35,-25,-20,-25,-10,-23,-12,-24,-6,-24,0,-27,2,-27,-8,-30,-4,-28,8,-27,7,-31,27,-31,39,-20,46,-31,52,-28,61,-23,64,-27,-65,-31,-64,-32,-58,-30,-49,-35,-46,-34,-42,-34,-26,-27,-25,-31,-38,-32,-44,-33,-33,-33,-20,-28,-19,-31,-14,-34,-5,-33,-1,-35,3,-33,7,-36,14,-36,17,-32,40,-37,50,-38,58,-40,63,-38,66,-43,62,-45,72,-38,75,-42,89,-42,87,-38,94,-32,102,-28,-106,-44,-117,-44,-117,-38,-111,-39,-100,-45,-98,-44,-91,-44,-81,-41,-68,-51,-68,-46,-53,-51,-52,-55,-46,-53,-36,-50,-37,-56,-22,-46,-21,-50,-18,-52,-17,-53,-12,-48,-8,-50,-3,-51,1,-53,7,-54,17,-49,20,-50,28,-43,34,-46,37,-47,42,-45,-98,-42,-114,-47,-108,-51,-68,-57,-53,-61,-40,-62,-29,-55,-27,-54,-14,-60,-10,-57,15,-50,20,-56,22,-60,30,-62,34,-53,52,-50,52,-61,62,-48,70,-57,75,-52,-30,-52,-23,-55,-25,-64,-8,-58,-4,-63,-2,-62,13,-65,15,-66,21,-63,36,-65,45,-66,46,-70,55,-64,68,-74,72,-69,75,-62,-48,-71,-40,-73,-39,-75,-39,-60,-25,-69,-18,-71,-10,-72,4,-67,7,-64,17,-63,25,-67,28,-71,30,-74,35,-73,-99,-70,-112,-73,-98,-83,-97,-81,-46,-77,-45,-85,-34,-70,-25,-73,-20,-72,-12,-75,-3,-79,-1,-74,7,-79,11,-73,13,-72,22,-79,30,-79,44,-78,47,-80,-32,-80,-50,-87,-52,-90,-47,-92,-40,-85,-27,-85,-19,-89,-16,-87,-16,-92,-4,-92,1,-84,16,-84,18,-90,43,-95,48,-92,52,-86,52,-90,75,-92,78,-91,90,-78,-81,-92,-80,-92,-72,-89,-63,-92,-60,-89,-54,-97,-54,-102,-47,-99,-38,-100,-30,-98,-15,-90,-14,-97,-13,-99,-12,-100,-14,-96,2,-93,7,-88,11,-88,19,-100,20,-102,44,-92,57,-91,59,-99,-13,-93,-15,-92,-18,-90,-45,-105,-43,-103,-42,-106,-30,-107,-8,-103,3,-105,3,-110,8,-112,17,-113,36,-103,48,-106,84,-103,93,-106,-108,-108,-83,-116,-50,-104,-35,-107,-31,-100,-25,-105,-21,-105,-8,-109,4,-108,18,-108,42,-112,-83,-118,-68,-118,-54,-118,-58,-114,-52,-117,-26,-117,-20,-116,-8,-107,-8,-112,-4,-107,18,-110,20,-108,50,-115,61,-115,72,-108,81,-122,83,-121,-33,-124,-26,-124,-31,-130,-20,-126,-16,-124,-10,-128,-5,-132,0,-128,5,-125,-48,-126,22,-132,31,-126,40,-130,-101,-114,-49,-127,-15,-129,10,-130,24,-127,-2,-127,-3,-126,2,-126,19,-130,35,-127,39,-128,-48,-127];
const z7 = [-6,123,-4,114,15,115,36,119,41,118,-38,114,-18,113,-9,112,-37,107,-47,105,-40,104,-38,100,-47,102,-2,100,-2,99,-1,98,24,102,29,98,29,95,41,96,57,94,86,90,92,92,-2,92,-18,89,5,88,5,84,22,90,-52,88,20,94,-1,87,-68,84,-62,86,-68,81,-60,84,-15,84,2,82,8,83,12,85,15,83,13,79,23,84,33,86,39,79,-17,79,-17,78,-8,79,-22,76,-18,72,-15,72,-10,72,-2,79,-30,75,-22,71,-2,73,7,77,9,75,29,76,-75,72,-58,78,-60,70,-22,71,-14,71,-11,69,-10,70,-6,70,-4,68,5,72,6,67,15,76,21,77,19,71,25,74,28,76,31,75,33,76,42,76,-1,70,-8,66,80,76,87,65,92,63,88,65,18,67,8,68,-20,71,12,68,-113,64,-84,65,-84,62,-79,60,-72,59,-63,63,-18,62,0,61,14,61,22,67,-80,58,-76,58,-69,59,-34,57,-38,53,-42,51,-37,51,-16,51,-11,54,-2,55,-5,52,-3,50,-14,50,-7,49,33,62,37,62,61,68,55,62,61,56,70,52,87,65,-97,54,-85,49,-72,53,-70,48,-66,46,-58,46,-53,44,-39,52,-34,47,-22,52,-30,46,-25,45,-18,42,-9,44,-5,46,9,50,17,49,20,46,34,50,33,44,32,43,50,51,55,45,51,44,65,47,61,43,-112,44,-92,42,-86,40,-73,43,-71,46,-56,44,-52,39,-48,40,-38,42,-30,39,-18,37,-15,40,-3,42,-2,38,3,34,9,30,14,39,19,42,16,43,33,38,37,33,42,30,55,32,61,33,66,34,83,29,71,32,71,34,81,33,-103,38,-88,35,-65,36,-55,34,-48,32,-41,31,-32,32,-26,27,-24,28,-11,34,-6,28,4,28,1,23,3,21,15,27,29,28,34,24,45,27,62,25,67,30,72,31,75,29,88,30,97,30,-101,32,-76,30,-57,37,-52,32,-47,29,-32,29,-19,24,-14,27,-8,24,-4,23,-2,28,12,28,20,24,29,26,53,26,71,30,-112,27,-103,25,-100,21,-84,24,-68,26,-49,23,-44,21,-34,24,-22,29,-20,22,-21,26,-15,27,-3,27,-1,20,2,22,11,24,18,21,36,20,27,22,66,24,60,20,77,22,-78,15,-80,18,-71,18,-56,20,-34,19,-25,22,-17,19,-12,20,-10,18,0,17,5,20,12,17,16,15,27,18,-76,18,-75,16,-70,17,-58,11,-55,13,-40,13,-39,15,-28,18,-27,16,-17,13,6,15,27,15,29,11,36,13,40,12,-84,12,-80,5,-77,7,-74,8,-81,1,-70,6,-64,8,-63,7,-63,12,-52,1,-52,5,-43,4,-30,7,-23,8,-19,9,-16,10,-12,8,-10,8,-4,9,4,9,10,6,13,8,16,9,22,8,40,11,54,3,60,8,-100,4,-96,-1,-87,-1,-85,-1,-80,2,-68,3,-65,2,-50,0,-48,-1,-42,-1,-28,0,-25,-2,-10,1,-4,1,-1,-5,8,1,8,-2,11,-3,16,-1,23,0,32,-2,49,-2,51,-2,90,-3,85,-3,60,-3,-115,-7,-74,-5,-73,-7,-76,-9,-72,-6,-53,-8,-45,-6,-40,-7,-36,-4,-27,-6,-23,-7,-18,-6,-2,-7,12,-4,13,-9,2,-9,5,-7,10,-7,17,-11,25,-10,54,-9,-100,-14,-84,-10,-59,-10,-56,-10,-55,-9,-41,-8,-41,-11,-21,-11,-19,-10,-13,-13,-8,-11,-10,-14,-12,-15,-6,-15,-1,-9,-5,-10,3,-12,11,-12,16,-14,20,-11,28,-10,44,-11,64,-11,55,-14,50,-12,-110,-18,-95,-18,-45,-19,-46,-17,-38,-19,-37,-17,-21,-17,-20,-15,-18,-18,-16,-15,-11,-20,-6,-16,-3,-19,-12,-21,11,-19,13,-21,17,-19,20,-19,30,-17,32,-16,35,-17,40,-18,48,-18,54,-17,53,-20,66,-15,80,-14,94,-16,106,-16,-78,-27,-93,-30,-99,-31,-116,-31,-108,-33,-104,-31,-106,-36,-103,-37,-94,-37,-86,-36,-66,-33,-65,-35,-54,-37,-44,-33,-45,-31,-42,-30,-50,-34,-49,-30,-42,-33,-30,-31,-28,-33,-25,-29,-20,-34,-11,-33,-2,-31,1,-30,10,-30,11,-31,16,-33,12,-29,23,-30,29,-30,28,-29,50,-27,52,-29,55,-28,61,-27,76,-27,79,-32,80,-30,108,-32,-65,-37,-51,-37,-44,-43,-46,-32,-39,-41,-29,-34,-24,-43,-20,-36,-12,-39,-11,-37,-6,-38,5,-39,11,-38,12,-36,26,-39,29,-31,33,-35,60,-35,62,-35,-22,-36,26,-37,14,-41,17,-45,19,-44,-72,-44,-58,-43,-58,-44,-39,-44,-33,-44,-28,-44,-25,-46,-24,-41,-16,-45,-14,-44,-6,-42,-2,-41,14,-45,-82,-45,-88,-41,-76,-44,-55,-46,-44,-47,-24,-50,-18,-47,6,-46,8,-48,12,-50,16,-51,20,-52,33,-53,43,-46,45,-45,59,-48,-76,-48,-75,-48,-58,-51,-54,-53,-54,-56,-32,-50,-28,-51,-23,-54,-22,-55,-4,-53,-5,-52,-3,-56,-2,-58,8,-53,10,-55,24,-57,27,-58,31,-57,35,-58,33,-59,46,-55,60,-60,61,-65,67,-55,77,-54,84,-55,71,-59,103,-53,-6,-58,-12,-61,-7,-64,-1,-60,1,-62,13,-58,17,-61,27,-62,32,-60,39,-60,39,-61,20,-60,-54,-60,-45,-60,-36,-66,-30,-62,-25,-66,-22,-66,-20,-65,-16,-60,-10,-71,-9,-66,-2,-68,-7,-72,14,-62,33,-63,27,-65,25,-68,-24,-72,-24,-74,-52,-70,-49,-76,-95,-70,-80,-73,-53,-69,-40,-77,-40,-74,-36,-71,-9,-73,-2,-71,13,-74,17,-74,12,-75,30,-70,-98,-85,-67,-84,-59,-85,-58,-80,-38,-80,-17,-80,-12,-81,-13,-85,1,-86,-1,-78,-10,-82,10,-82,33,-82,46,-82,47,-85,-20,-88,-29,-82,-6,-86,-15,-88,-15,-90,-6,-87,13,-81,16,-85,36,-89,38,-86,-93,-94,-74,-92,-59,-92,-33,-90,-17,-97,-8,-94,6,-91,12,-90,12,-92,18,-92,24,-89,-61,-98,-46,-100,-22,-97,-23,-99,-19,-103,-18,-99,-2,-100,0,-96,5,-100,6,-102,8,-103,14,-103,14,-92,-19,-94,-86,-101,-26,-93,-43,-89,-77,-88,-33,-95,-37,-96,-24,-96,-23,-93,-1,-99,17,-100,17,-99,55,-94,57,-99,65,-94,-89,-97,-23,-97,-27,-100,-44,-101,-4,-104,-1,-106,5,-107,13,-107,-23,-109,-3,-101,-1,-102,3,-101,13,-105,26,-94,32,-105,54,-106,69,-108,84,-108,-79,-114,-37,-115,10,-118,26,-116,55,-117,-9,-125,13,-124,28,-125,-8,-125];
const z8 = [-5,118,56,119,21,116,51,108,18,105,-24,104,85,100,-26,98,-39,98,-4,96,2,92,8,94,15,96,0,89,-11,90,-37,92,41,90,-33,83,-72,84,-60,83,-59,84,-48,81,-42,82,-32,85,-26,86,38,85,-10,84,30,84,-4,81,-49,81,-52,78,14,80,18,80,-28,77,-26,76,-16,75,43,78,53,78,71,78,68,72,68,71,43,72,53,71,-43,70,-55,76,-27,75,-5,75,-1,71,7,71,14,69,-50,69,-88,66,-27,69,11,66,-10,67,-1,64,-3,65,-7,61,-1,65,66,65,74,66,40,63,28,66,32,65,-86,59,-83,60,-42,60,-35,58,-38,56,-30,55,-26,53,-7,57,-6,54,-16,56,-17,53,0,55,17,57,21,59,27,63,33,62,35,66,39,62,42,64,51,55,60,63,73,59,91,57,103,56,-79,55,-63,51,-64,50,-40,56,-49,47,-36,48,-27,48,-22,50,-18,50,-8,48,-2,48,5,49,8,49,17,45,25,51,34,50,40,54,45,49,-50,47,-42,49,-39,48,-41,43,-35,44,-32,45,-19,47,-9,47,0,45,3,45,20,47,39,44,48,51,-64,42,-41,45,-47,38,-55,38,-30,39,-18,41,-7,41,0,37,13,42,14,44,19,41,26,43,39,39,53,42,63,43,21,40,35,39,46,39,56,40,63,35,-125,30,-103,31,-85,27,-81,27,-65,30,-63,26,-48,36,-47,36,-38,30,-30,28,-13,36,-6,33,9,36,11,31,15,36,23,37,31,36,77,31,-85,26,-74,26,-68,24,-70,29,-46,30,-33,30,-30,30,-26,29,-17,30,-2,28,2,33,9,32,28,31,42,26,49,32,71,30,70,30,-118,18,-104,22,-103,22,-78,24,-70,20,-51,25,-42,27,-27,29,-12,29,-13,25,3,28,7,31,14,30,20,26,27,29,33,28,39,23,48,26,60,25,-68,26,-75,20,-63,22,-47,15,-40,15,-36,21,-30,20,-24,19,-18,24,-12,21,-11,23,7,20,10,23,19,21,25,23,29,20,24,17,31,18,39,16,62,18,-109,18,-111,15,-117,9,-73,11,-72,9,-72,7,-68,14,-63,9,-62,8,-55,14,-44,10,-35,15,-31,17,-22,15,-16,15,-5,17,7,14,13,19,16,19,27,17,36,14,51,17,54,19,60,15,70,12,73,12,82,12,-86,1,-76,-2,-75,2,-68,-3,-62,-2,-60,-4,-52,-1,-41,3,-34,-2,-28,-4,-22,-4,-11,-3,-7,-4,2,-5,7,-3,16,-1,19,1,23,3,32,1,40,0,47,1,60,0,70,1,82,1,87,3,100,2,117,8,-109,7,-96,8,-116,1,-96,4,-100,8,-92,8,-61,4,-58,6,-50,6,-44,6,-31,8,-26,9,-22,9,-18,6,-9,6,-7,8,1,7,8,6,15,6,19,8,31,6,41,5,58,5,62,7,70,6,115,5,123,3,-85,-6,-77,-4,-69,-9,-80,-8,-76,-10,-44,-4,-42,-7,-36,-4,-32,-6,-26,-10,-16,-10,-4,-8,-2,-8,13,-10,20,-13,19,-15,29,-8,34,-10,44,-9,48,-10,55,-7,70,-6,68,-3,72,-5,-88,-12,-85,-16,-79,-14,-102,-14,-94,-16,-58,-12,-54,-14,-45,-12,-32,-14,-24,-14,-12,-14,-7,-13,5,-10,4,-16,15,-12,37,-8,39,-14,49,-13,59,-14,66,-13,77,-17,72,-13,79,-15,-106,-24,-90,-25,-85,-27,-79,-25,-56,-21,-45,-24,-43,-21,-33,-22,-18,-20,-12,-21,-7,-24,-1,-18,8,-18,16,-18,26,-20,33,-16,34,-20,40,-18,47,-17,57,-21,62,-20,88,-20,-76,-29,-73,-25,-58,-24,-52,-26,-50,-28,-40,-26,-33,-24,-28,-24,-22,-28,-12,-26,-6,-24,-1,-22,5,-26,13,-23,20,-26,27,-28,33,-24,44,-23,45,-28,-112,-32,-104,-33,-85,-27,-69,-31,-58,-32,-52,-30,-38,-32,-36,-30,-25,-34,-18,-32,-11,-32,-5,-33,4,-30,19,-31,26,-30,29,-33,50,-27,55,-25,62,-28,68,-30,-51,-36,-45,-38,-35,-36,-33,-41,-25,-33,-10,-38,-2,-39,3,-39,7,-38,18,-36,31,-37,32,-41,36,-39,41,-36,46,-39,58,-33,70,-32,82,-37,-79,-42,-77,-42,-70,-45,-61,-44,-48,-44,-51,-42,-48,-39,-38,-40,-27,-39,-14,-39,-14,-38,-8,-42,-2,-43,5,-43,16,-47,26,-43,33,-44,27,-42,36,-45,51,-44,-87,-47,-76,-47,-74,-44,-58,-50,-59,-52,-47,-50,-45,-46,-43,-46,-29,-50,-18,-47,-14,-51,-13,-46,-8,-46,2,-46,5,-42,4,-48,14,-43,16,-50,24,-48,32,-46,40,-44,55,-47,70,-44,82,-48,-88,-55,-88,-48,-55,-49,-44,-50,-30,-55,-18,-47,-17,-49,-4,-53,1,-53,7,-50,17,-54,23,-52,47,-54,41,-56,39,-48,-85,-61,-62,-62,-51,-60,-44,-65,-39,-65,-29,-62,-23,-65,-22,-57,-5,-58,-4,-61,4,-60,7,-54,12,-52,37,-58,46,-61,44,-62,35,-62,55,-57,60,-61,82,-58,75,-55,-37,-72,-45,-70,-64,-68,-40,-66,-32,-71,-22,-67,-17,-67,-19,-63,-15,-72,-16,-70,5,-70,11,-67,16,-71,26,-71,37,-71,44,-72,47,-74,56,-78,-28,-65,-88,-76,-44,-77,-33,-76,-30,-76,-17,-80,-10,-78,0,-76,2,-76,13,-76,14,-78,-1,-84,-8,-84,-22,-85,-24,-77,-16,-80,12,-83,10,-88,5,-84,16,-84,-44,-89,-16,-92,7,-85,-44,-99,-37,-103,-20,-97,-29,-89,-22,-97,10,-98,53,-92,-10,-101,14,-98,54,-100,5,-102,-13,-107,-2,-110,13,-107,13,-105,-14,-118,-8,-112,-14,-118];
const z9 = [-14,120,-7,92,-4,87,36,88,41,87,-4,71,16,71,34,70,17,68,-32,65,-47,66,-90,66,-36,64,-16,64,-19,63,-2,64,1,63,4,63,-13,61,-9,61,-47,58,-56,55,-37,56,-28,57,-21,57,-42,56,-4,55,8,58,12,58,11,59,46,58,33,56,-71,54,-36,52,-31,52,-25,53,-18,53,-11,53,-5,53,-4,52,-2,50,0,49,21,50,29,53,38,53,5,49,6,49,-42,46,-41,45,-38,49,-26,49,-24,47,-18,47,-10,49,3,46,5,47,9,45,18,46,-4,45,7,43,9,46,60,50,73,48,-64,47,-73,46,-70,46,-44,44,-47,44,-57,42,-30,44,-28,46,-5,47,-1,45,1,43,18,43,22,40,42,48,50,45,-61,43,-58,44,-32,44,-25,41,-23,41,-18,36,-13,41,-2,39,7,41,16,36,25,36,46,33,32,41,-47,39,-30,36,-15,38,-7,39,-9,38,-13,34,-1,37,-6,36,10,36,16,41,17,39,20,35,-71,37,-71,34,-72,34,-50,32,-40,36,-30,35,-17,33,-8,34,-3,36,2,34,4,35,10,34,40,37,41,36,56,37,-41,33,-33,31,-28,33,-24,32,-8,31,-4,34,4,30,9,33,24,30,27,32,40,31,-73,27,-69,26,-35,31,-31,30,-26,24,-18,27,-3,30,8,29,14,27,23,29,-65,30,-55,30,-72,27,-68,30,-90,21,-75,21,-56,30,-47,29,-22,25,-7,25,5,24,13,24,19,22,31,24,41,23,35,29,47,24,55,25,53,23,71,23,49,22,49,26,-73,22,-70,16,-44,18,-37,19,-33,21,-22,20,-10,21,-9,20,-2,17,8,17,17,20,25,21,28,19,35,18,43,20,47,19,68,25,72,25,35,20,-52,20,-53,13,-55,18,-45,17,-31,16,-35,14,-19,17,-17,13,-8,18,-3,14,2,18,8,15,18,12,24,15,31,15,40,16,44,18,54,14,-44,16,-44,12,-62,16,-55,14,-52,12,-36,11,-14,14,-13,13,-4,11,1,13,9,13,18,11,37,15,41,15,63,19,66,18,55,12,-48,6,-45,9,-43,7,-32,6,-23,10,-20,8,-9,10,-3,4,7,6,10,6,16,8,24,12,25,4,41,11,47,10,63,7,-71,3,-63,2,-58,7,-41,8,-35,4,-28,-1,-8,6,-4,3,2,1,5,3,14,3,21,5,27,4,43,3,57,4,66,2,72,-1,-104,-7,-111,-14,-80,-1,-70,-5,-71,-12,-68,-8,-58,-5,-53,-8,-51,-3,-50,-1,-45,-2,-37,-2,-32,-3,-26,-7,-13,-3,-11,-1,-8,1,-4,-2,2,-3,9,-1,14,-1,24,-2,35,-5,42,-2,54,-1,64,-4,70,-1,-85,-8,-83,-17,-72,-13,-63,-10,-58,-13,-51,-11,-46,-6,-38,-3,-34,-8,-29,-5,-17,-8,-11,-10,-8,-9,2,-7,4,-8,11,-5,25,-8,31,-8,36,-9,48,-4,53,-8,66,-6,92,-7,105,-11,-71,-16,-69,-21,-62,-18,-48,-21,-43,-18,-33,-16,-27,-13,-20,-13,-14,-18,-13,-15,-3,-16,4,-13,13,-18,20,-20,26,-17,29,-15,36,-15,52,-12,60,-14,-71,-21,-45,-26,-50,-26,-43,-25,-41,-20,-29,-25,-25,-22,-17,-19,-8,-21,4,-23,8,-20,12,-23,22,-23,32,-20,41,-19,45,-23,60,-25,62,-27,-46,-37,-40,-35,-37,-32,-28,-30,-22,-29,-19,-26,-10,-27,-7,-30,-2,-27,1,-25,10,-29,18,-25,26,-25,33,-26,34,-29,44,-29,46,-22,55,-22,-72,-34,-66,-28,-47,-39,-42,-38,-36,-38,-25,-35,-18,-32,-4,-30,-1,-30,4,-31,14,-31,22,-32,25,-27,35,-32,46,-31,-33,-34,-21,-36,-4,-34,2,-33,10,-36,15,-37,17,-35,26,-36,31,-38,37,-38,-85,-37,-88,-37,-64,-43,-57,-44,-59,-47,-54,-45,-30,-46,-19,-45,-15,-41,-7,-41,-4,-36,11,-41,12,-40,18,-40,22,-38,51,-37,-60,-51,-57,-48,-47,-41,-40,-40,-26,-43,-14,-43,-13,-44,-10,-44,1,-42,3,-44,15,-43,29,-43,48,-43,61,-40,-73,-51,-51,-50,-46,-56,-42,-52,-39,-48,-20,-48,-14,-50,-11,-47,-6,-46,9,-46,20,-45,38,-44,67,-48,-50,-55,-47,-58,-43,-54,-40,-53,-35,-54,-32,-53,-27,-60,-25,-55,-10,-52,-6,-56,17,-50,24,-48,26,-49,36,-53,45,-52,70,-49,-51,-52,-40,-57,-34,-50,-28,-51,-16,-54,-2,-50,5,-50,20,-59,27,-50,42,-49,47,-52,55,-52,-3,-49,24,-56,31,-58,31,-55,41,-57,-57,-62,-40,-62,-46,-56,-27,-56,-15,-58,6,-62,20,-60,27,-66,35,-63,-24,-67,-31,-63,-18,-71,-8,-67,-1,-66,10,-67,15,-65,-5,-60,-25,-71,-7,-73,8,-71,16,-64,31,-67,-50,-74,-48,-74,-33,-71,-25,-74,1,-75,0,-73,12,-74,36,-70,-33,-81,-32,-75,-33,-78,0,-80,-1,-73,31,-75,18,-76,-49,-74,-33,-75,-1,-75,0,-80,42,-71,-3,-73,-7,-73,-4,-76,21,-76,19,-87,3,-87];
const z10 = [16,93,-53,92,25,73,46,68,-38,68,-35,69,-33,69,-10,69,9,69,25,70,38,70,47,67,50,70,-99,62,90,69,-37,63,-38,61,-19,63,-3,61,-4,60,1,63,-2,57,6,49,3,49,-3,45,47,58,-60,56,-47,52,-46,50,-44,50,-48,49,-21,48,-9,50,-5,49,-11,44,-14,46,4,49,18,43,20,43,26,46,38,43,36,46,-38,47,-41,45,-38,42,-8,42,-4,40,4,41,-5,41,-7,45,-16,47,-13,46,-11,47,-10,47,-3,40,0,43,7,42,11,47,13,48,10,46,-1,46,1,49,4,47,17,42,33,43,54,52,-35,41,-35,38,-14,39,-11,38,-1,38,-3,38,0,42,7,40,5,41,30,40,30,37,37,37,50,43,65,42,-58,31,-34,39,-64,39,-50,39,-58,38,-45,42,-42,41,-30,40,-23,39,-9,38,-5,38,8,38,12,38,30,38,59,40,-79,39,-40,38,-48,36,-48,36,-43,36,-20,31,-18,32,-6,37,1,36,5,36,8,35,30,35,37,35,60,38,-63,31,-41,32,-35,31,-24,33,-20,32,-17,34,-13,33,-11,35,1,34,15,31,24,33,33,30,38,32,46,30,64,31,79,35,-75,30,-58,27,-52,27,-40,28,-37,26,-33,29,-10,27,-3,23,4,28,9,23,11,21,17,26,24,27,26,30,28,30,38,25,66,24,71,29,-69,20,-47,26,-43,24,-36,22,-32,22,-28,24,-24,22,-17,20,-13,25,-12,24,-8,22,-4,22,-1,23,8,21,14,22,19,22,22,20,32,21,38,21,48,30,-87,27,-71,21,-54,18,-53,13,-44,16,-35,17,-33,21,-26,14,-16,19,-13,18,-5,14,-4,16,9,18,15,18,26,14,32,16,30,13,35,13,-61,16,-48,21,-46,16,-40,10,-33,12,-24,15,-20,10,-16,14,-10,15,-4,18,0,14,1,10,6,14,10,12,15,16,26,20,32,15,45,15,62,19,75,13,87,12,-84,11,-77,13,-73,11,-53,10,-47,9,-37,8,-33,8,-25,9,-13,9,-9,8,-8,7,-3,7,0,8,4,9,10,9,19,11,24,11,28,10,37,12,50,14,-55,7,-42,6,-36,4,-28,7,-24,5,-21,5,-6,5,-4,3,-1,4,1,7,9,4,16,7,20,8,30,9,34,10,43,8,-84,7,-68,1,-66,0,-56,5,-60,5,-54,1,-47,1,-41,2,-34,2,-30,4,-16,2,-8,2,-2,0,5,2,15,4,20,5,33,4,43,3,45,1,-95,1,-90,0,-88,4,-78,1,-72,-1,-67,-3,-56,-4,-52,2,-48,-1,-39,-3,-33,-3,-27,-1,-22,-3,-16,-1,-7,-2,-3,-1,3,-2,8,-2,18,-4,24,-2,32,-2,40,-4,57,-2,49,-1,53,-1,66,-4,80,-4,-83,-5,-80,-9,-56,-5,-54,-7,-42,-9,-36,-5,-29,-8,-22,-9,-17,-7,-10,-6,-5,-7,7,-5,16,-6,26,-8,39,-6,44,-6,40,-8,63,-5,71,-7,84,-5,-65,-9,-60,-12,-42,-12,-31,-11,-26,-10,-25,-14,-19,-14,-14,-13,-10,-12,-5,-11,3,-10,13,-12,26,-9,37,-10,47,-14,62,-10,68,-12,74,-11,-72,-17,-53,-16,-48,-16,-39,-14,-36,-18,-30,-16,-23,-16,-15,-15,-4,-16,6,-14,18,-16,22,-13,-70,-20,-59,-18,-46,-19,-35,-20,-25,-21,-18,-21,-10,-19,-3,-20,-1,-16,4,-21,18,-21,25,-17,31,-18,40,-15,51,-20,73,-17,-63,-17,-50,-21,-42,-20,-30,-22,-23,-21,-14,-23,-8,-24,0,-21,9,-22,18,-24,31,-21,38,-19,42,-20,53,-19,-40,-24,-32,-25,-26,-26,-20,-26,-10,-25,-7,-28,1,-25,8,-26,13,-25,19,-25,24,-26,35,-23,43,-22,48,-25,-54,-25,-46,-25,-37,-27,-24,-28,-18,-30,-12,-33,-5,-28,10,-30,17,-29,23,-31,30,-33,33,-31,50,-30,-56,-26,-33,-32,-26,-33,-16,-30,-8,-31,-2,-30,1,-32,7,-36,13,-32,27,-31,30,-28,37,-27,47,-26,-59,-37,-52,-35,-36,-37,-35,-36,-30,-35,-21,-35,-13,-36,-4,-35,-1,-37,2,-36,14,-37,19,-39,36,-34,41,-34,-84,-37,-78,-37,-70,-40,-42,-43,-31,-40,-21,-39,-12,-39,-6,-38,-5,-37,3,-40,10,-41,25,-42,34,-39,47,-37,50,-34,-89,-42,-81,-45,-73,-43,-57,-43,-47,-46,-34,-45,-26,-46,-17,-46,-10,-43,-5,-45,6,-46,12,-42,29,-41,39,-37,42,-39,46,-35,-72,-40,-60,-40,-44,-43,-41,-48,-33,-47,-25,-44,-16,-47,-12,-43,-2,-44,3,-45,16,-47,36,-40,-64,-48,-49,-43,-55,-47,-38,-47,-28,-49,-19,-47,-11,-47,-3,-46,1,-48,8,-48,14,-46,24,-46,48,-43,-64,-49,-62,-50,-48,-50,-40,-49,-36,-52,-29,-50,-21,-52,-10,-52,2,-51,5,-49,16,-49,25,-53,30,-50,59,-46,-50,-56,-45,-57,-37,-54,-30,-55,-27,-51,-18,-53,-6,-50,-5,-51,-1,-54,3,-52,13,-51,17,-52,28,-51,-61,-57,-41,-61,-36,-56,-18,-53,-7,-61,-4,-58,3,-58,5,-56,15,-58,21,-56,34,-60,-66,-65,-53,-64,-44,-66,-20,-64,-10,-64,-5,-65,0,-63,17,-60,26,-68,46,-65,-15,-74,11,-68,10,-66,-25,-65,-30,-68,-45,-69,-60,-69,-64,-71,-14,-71,-4,-68,-2,-73,11,-70,24,-73,32,-61,22,-73,-32,-82,-44,-74,-64,-73,-7,-74,-8,-77,0,-80,4,-80,10,-82,17,-85,-33,-84,-5,-82,-38,-80,-1,-82,25,-81,47,-86,48,-84,-65,-93,-32,-90,17,-92,-30,-85,40,-90,-25,-101,-25,-102,-32,-115,-5,-95,33,-127,-32,-118];

const iValues = [1, 2, 3, 4, 5, 6, 7, 8, 9, 10];
const evenTicks = [2, 4, 6, 8, 10];
const panelTicks = [-0.8, 0, 0.8];
const lastPanelTicks = [-0.645, -0.323, 0, 0.323, 0.645];
const colorTicks = [0.05, 0.1, 0.15, 0.2, 0.25, 0.3, 0.35, 0.4];
const cMin = 0.001, cMax = 0.4415;

const C = [
  [.010,.003,.003,.003,.003,.003,.003,.003,.003,.003],
  [.003,.139,.004,.005,.004,.010,.009,.004,.005,.004],
  [.003,.003,.259,.010,.005,.004,.007,.003,.008,.003],
  [.003,.005,.006,.440,.014,.006,.001,.016,.011,.004],
  [.003,.004,.005,.014,.440,.008,.001,.006,.006,.003],
  [.003,.008,.005,.006,.008,.364,.011,.004,.004,.003],
  [.003,.007,.006,.002,.002,.006,.231,.005,.004,.003],
  [.003,.003,.003,.015,.008,.004,.005,.144,.004,.003],
  [.003,.004,.007,.011,.008,.004,.004,.003,.097,.003],
  [.003,.004,.003,.003,.003,.005,.005,.005,.004,.069]
];

const stage = document.getElementById('stage');
const SPINE = '#262626';
const DOT = '#62aadb';

function addCanvas(left, top, width, height, z) {
  const c = document.createElement('canvas');
  c.width = width; c.height = height;
  c.style.left = left + 'px'; c.style.top = top + 'px';
  c.style.width = width + 'px'; c.style.height = height + 'px';
  c.style.zIndex = z;
  stage.appendChild(c);
  return c.getContext('2d');
}

function addText(html, left, y, size, opts = {}) {
  const s = document.createElement('span');
  s.className = 't';
  s.innerHTML = html;
  s.style.fontSize = size + 'px';
  s.style.top = (y - (opts.center ? 0 : 0.3375 * size)) + 'px';
  if (opts.right !== undefined) s.style.right = (3131 - opts.right) + 'px';
  else s.style.left = left + 'px';
  if (opts.color) s.style.color = opts.color;
  stage.appendChild(s);
}

const base = { responsive: false, animation: false, plugins: { legend: { display: false }, tooltip: { enabled: false } } };

function toPoints(flat) {
  const pts = [];
  for (let k = 0; k < flat.length; k += 2) pts.push({ x: flat[k] / 100, y: flat[k + 1] / 100 });
  return pts;
}

const panels = [
  { values: z1, left: 93, top: 92, right: 473.5, bottom: 474.5, xr: [-1.28, 1.28], ticks: panelTicks, z: 14 },
  { values: z2, left: 473.5, top: 92, right: 854, bottom: 474.5, xr: [-1.28, 1.28], ticks: panelTicks, z: 13 },
  { values: z3, left: 854, top: 92, right: 1234.5, bottom: 474.5, xr: [-1.28, 1.28], ticks: panelTicks, z: 12 },
  { values: z4, left: 1234.5, top: 92, right: 1615, bottom: 474.5, xr: [-1.28, 1.28], ticks: panelTicks, z: 11 },
  { values: z5, left: 1615, top: 92, right: 1998, bottom: 474.5, xr: [-1.28, 1.30], ticks: panelTicks, z: 10 },
  { values: z6, left: 93, top: 474.5, right: 473.5, bottom: 856, xr: [-1.28, 1.28], ticks: panelTicks, z: 24 },
  { values: z7, left: 473.5, top: 474.5, right: 854, bottom: 856, xr: [-1.28, 1.28], ticks: panelTicks, z: 23 },
  { values: z8, left: 854, top: 474.5, right: 1234.5, bottom: 856, xr: [-1.28, 1.28], ticks: panelTicks, z: 22 },
  { values: z9, left: 1234.5, top: 474.5, right: 1615, bottom: 856, xr: [-1.28, 1.28], ticks: panelTicks, z: 21 },
  { values: z10, left: 1615, top: 474.5, right: 2001, bottom: 856, xr: [-1.297, 1.297], ticks: lastPanelTicks, z: 20 }
];

panels.forEach(p => {
  const pad = 8;
  const w = Math.ceil(p.right - p.left) + 2 * pad, h = Math.ceil(p.bottom - p.top) + 2 * pad;
  const ctx = addCanvas(p.left - pad, p.top - pad, w, h, p.z);
  const axis = (ticks, min, max, position, fitKey) => ({
    type: 'linear', position, min, max,
    afterBuildTicks: s => { s.ticks = ticks.map(value => ({ value })); },
    afterFit: s => { s[fitKey] = 0; },
    ticks: { display: false },
    grid: { drawOnChartArea: false, tickLength: -5, color: '#777', lineWidth: 1 },
    border: { color: SPINE, width: 5 }
  });
  new Chart(ctx, {
    type: 'scatter',
    data: { datasets: [{ data: toPoints(p.values), backgroundColor: DOT, borderWidth: 0, pointRadius: 2.6, clip: false }] },
    options: {
      ...base,
      layout: { padding: { left: pad, top: pad, right: w - pad - (p.right - p.left), bottom: h - pad - (p.bottom - p.top) } },
      scales: {
        x: axis(p.ticks, p.xr[0], p.xr[1], 'bottom', 'height'),
        y: axis(panelTicks, -1.28, 1.28, 'left', 'width')
      }
    }
  });
});

// heatmap: one floating bar per cell
function jet(v) {
  const t = (v - cMin) / (cMax - cMin);
  const f = a => Math.round(255 * Math.max(0, Math.min(1, 1.5 - Math.abs(4 * t - a))));
  return `rgb(${f(3)},${f(2)},${f(1)})`;
}

const boxAxis = (position, fitKey, size, labelled, pad) => ({
  type: 'linear', position, min: 0.5, max: 10.5, offset: false,
  reverse: position === 'left' || position === 'right',
  afterBuildTicks: s => { s.ticks = evenTicks.map(value => ({ value })); },
  afterFit: s => { s[fitKey] = size; },
  ticks: { z: 2, display: labelled, autoSkip: false, maxRotation: 0, padding: pad, color: '#222', font: { family: 'Liberation Serif', size: 42 }, callback: v => String(v) },
  grid: { z: 1, drawOnChartArea: false, offset: false, tickLength: -10, color: SPINE, lineWidth: 3 },
  border: { z: 2, color: '#444', width: 3 }
});

const heatCtx = addCanvas(2100, 0, 920, 959, 5);
new Chart(heatCtx, {
  type: 'bar',
  data: {
    datasets: C.map((row, j) => ({
      data: iValues.map(i => ({ x: i, y: [j + 0.5, j + 1.5] })),
      backgroundColor: row.map(jet),
      borderWidth: 0,
      inflateAmount: 0.6,
      barPercentage: 1,
      categoryPercentage: 1
    }))
  },
  options: {
    ...base,
    layout: { padding: { top: 41.6, right: 19, left: 0, bottom: 0 } },
    scales: {
      x: { ...boxAxis('bottom', 'height', 85.6, true, 28), stacked: true },
      y: boxAxis('left', 'width', 67, true, 24),
      xTop: { ...boxAxis('top', 'height', 0, false, 0), axis: 'x' },
      yRight: { ...boxAxis('right', 'width', 0, false, 0), axis: 'y' }
    }
  }
});

// colour bar
const barCtx = addCanvas(3016, 0, 115, 959, 5);
new Chart(barCtx, {
  type: 'bar',
  data: {
    labels: ['C'],
    datasets: [{
      data: [[cMin, cMax]],
      barPercentage: 1,
      categoryPercentage: 1,
      backgroundColor: c => {
        const a = c.chart.chartArea;
        if (!a) return '#000080';
        const g = c.chart.ctx.createLinearGradient(0, a.bottom, 0, a.top);
        g.addColorStop(0, '#000080'); g.addColorStop(0.125, '#0000ff'); g.addColorStop(0.375, '#00ffff');
        g.addColorStop(0.625, '#ffff00'); g.addColorStop(0.875, '#ff0000'); g.addColorStop(1, '#800000');
        return g;
      },
      borderWidth: 0
    }]
  },
  options: {
    ...base,
    layout: { padding: { top: 42, bottom: 86, left: 0, right: 0 } },
    scales: {
      x: { display: false },
      y: {
        position: 'right', min: cMin, max: cMax,
        afterBuildTicks: s => { s.ticks = colorTicks.map(value => ({ value })); },
        afterFit: s => { s.width = 85.3; },
        ticks: { z: 2, padding: 20, color: '#333', font: { family: 'Liberation Serif', size: 39 }, callback: v => String(v) },
        grid: { z: 1, drawOnChartArea: false, tickLength: -9, color: 'rgba(0,0,0,.55)', lineWidth: 1 },
        border: { z: 2, color: '#555', width: 1.5 }
      }
    }
  }
});

// text
addText('(<i>a</i>)', 2, 63, 62);
addText('(<i>b</i>)', 2043, 47, 60);
const zLabels = [[115,135],[497,135],[882,135],[1259,135],[1640,140],[112,528],[488,523],[873,523],[1255,523],[1640,523]];
zLabels.forEach((p, k) => addText(`<i>z</i><sub>${k + 1}</sub>`, p[0], p[1], 66));
[[120,446],[508,834]].forEach(r => {
  addText('0.8', 0, r[0], 40, { center: true, right: 79 });
  addText('\u22120.8', 0, r[1], 40, { center: true, right: 77 });
});
[[93,407],[479,798],[864,1175],[1250,1565],[1635,1949]].forEach(r => {
  addText('\u22120.8', r[0], 893, 40, { center: true });
  addText('0.8', r[1], 893, 40, { center: true });
});
addText('<i>i</i>', 2590, 952, 50);
addText('<i>j</i>', 2114, 462, 50);
addText('<i>C</i><sub><i>ij</i></sub>', 3066, 36, 52);
</script>
</body>
</html>
